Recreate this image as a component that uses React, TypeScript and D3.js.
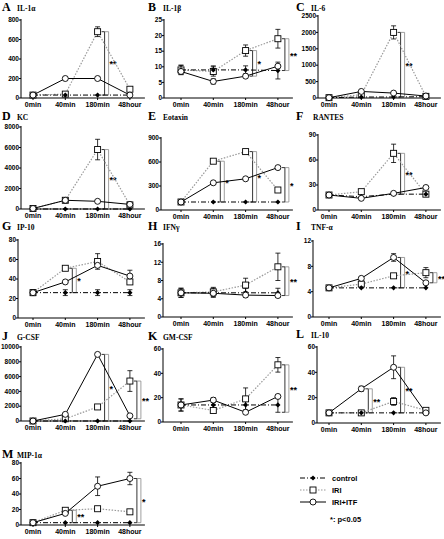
import React from "react";
import * as d3 from "d3";

const categories = ["0min", "40min", "180min", "48hour"];

// ticks
const ticksA = [0, 200, 400, 600, 800];
const ticksB = [0, 5, 10, 15, 20, 25];
const ticksC = [0, 500, 1000, 1500, 2000, 2500];
const ticksD = [0, 2000, 4000, 6000, 8000];
const ticksE = [0, 300, 600, 900];
const ticksF = [0, 30, 60, 90];
const ticksG = [0, 20, 40, 60, 80];
const ticksH = [0, 4, 8, 12, 16];
const ticksI = [0, 4, 8, 12];
const ticksJ = [0, 2000, 4000, 6000, 8000, 10000];
const ticksK = [0, 20, 40, 60];
const ticksL = [0, 20, 40, 60];
const ticksM = [0, 20, 40, 60, 80];

// series: control, IRI, IRI+ITF (values) and errors
const ctrlA = [30, 30, 30, 30], iriA = [30, 40, 680, 90], itfA = [30, 200, 200, 30];
const eCtrlA = [0, 0, 0, 0], eIriA = [0, 0, 50, 20], eItfA = [0, 15, 15, 0];
const ctrlB = [9, 9, 9, 8.8], iriB = [9, 8.5, 15.2, 19], itfB = [8.5, 5.3, 7, 10.2];
const eCtrlB = [1.5, 1.3, 1.3, 2.7], eIriB = [1.5, 1.5, 1.8, 3], eItfB = [0, 0.8, 0.5, 0];
const ctrlC = [10, 30, 30, 40], iriC = [10, 100, 2000, 50], itfC = [10, 200, 150, 60];
const eCtrlC = [0, 0, 0, 0], eIriC = [0, 0, 200, 0], eItfC = [0, 0, 0, 0];
const ctrlD = [0, 0, 0, 0], iriD = [50, 850, 5800, 400], itfD = [50, 850, 750, 450];
const eCtrlD = [0, 0, 0, 0], eIriD = [0, 0, 1000, 0], eItfD = [0, 0, 0, 0];
const ctrlE = [100, 100, 100, 100], iriE = [100, 610, 730, 250], itfE = [100, 340, 390, 530];
const eCtrlE = [0, 0, 0, 0], eIriE = [0, 0, 0, 0], eItfE = [0, 0, 0, 0];
const ctrlF = [18, 16, 19, 19], iriF = [18, 22, 68, 19], itfF = [18, 14, 20, 27];
const eCtrlF = [0, 0, 0, 0], eIriF = [0, 0, 11, 0], eItfF = [0, 0, 0, 0];
const ctrlG = [26, 26, 26, 26], iriG = [26, 51, 58, 37], itfG = [26, 37, 54, 43];
const eCtrlG = [3, 3, 3, 3], eIriG = [3, 0, 8, 0], eItfG = [0, 0, 0, 6];
const ctrlH = [5.3, 5.3, 5.3, 5.3], iriH = [5.3, 5.5, 7, 11], itfH = [5.3, 5.2, 4.8, 4.7];
const eCtrlH = [1, 1, 1, 1], eIriH = [1, 1, 1.5, 3], eItfH = [0, 0, 0, 0];
const ctrlI = [4.6, 4.6, 4.6, 4.6], iriI = [4.6, 5.2, 6.5, 7], itfI = [4.6, 6.1, 9.4, 5.4];
const eCtrlI = [0, 0, 0, 0], eIriI = [0, 0, 0, 0.8], eItfI = [0, 0, 0.6, 0];
const ctrlJ = [0, 0, 0, 0], iriJ = [0, 300, 1900, 5400], itfJ = [0, 900, 9000, 700];
const eCtrlJ = [0, 0, 0, 0], eIriJ = [0, 0, 0, 1400], eItfJ = [0, 0, 0, 0];
const ctrlK = [14, 14, 14, 14], iriK = [14, 9.5, 19, 47], itfK = [14, 18, 8, 21];
const eCtrlK = [5, 5, 5, 6], eIriK = [5, 0, 9, 6], eItfK = [0, 2, 0, 0];
const ctrlL = [8, 8, 8, 8], iriL = [8, 8, 17, 10], itfL = [8, 27, 44, 8];
const eCtrlL = [0, 0, 0, 0], eIriL = [0, 0, 3, 0], eItfL = [0, 2, 9, 0];
const ctrlM = [3, 3, 3, 3], iriM = [3, 19, 21, 17], itfM = [3, 15, 50, 60];
const eCtrlM = [0, 0, 0, 0], eIriM = [0, 0, 0, 0], eItfM = [0, 0, 12, 8];

// significance brackets: [category index, top value, bottom value, label]
const sigA = [[2, 680, 30, "**"]];
const sigB = [[2, 15.2, 7, "*"], [3, 19, 8.8, "**"]];
const sigC = [[2, 2000, 30, "**"]];
const sigD = [[2, 5800, 0, "**"]];
const sigE = [[1, 610, 100, "*"], [2, 730, 100, "*"], [3, 530, 100, "*"]];
const sigF = [[2, 68, 19, "**"]];
const sigG = [[1, 51, 26, "*"]];
const sigH = [[3, 11, 4.7, "**"]];
const sigI = [[2, 9.4, 4.6, "*"], [3, 7, 5.4, "**"]];
const sigJ = [[2, 9000, 0, "*"], [3, 5400, 300, "**"]];
const sigK = [[3, 47, 8, "**"]];
const sigL = [[1, 27, 8, "**"], [2, 44, 8, "**"]];
const sigM = [[1, 19, 3, "**"], [3, 60, 3, "*"]];

const panels = [
  { letter: "A", name: "IL-1α", ticks: ticksA, s: [ctrlA, iriA, itfA], e: [eCtrlA, eIriA, eItfA], sig: sigA, col: 0, ax: 21, top: 20, bot: 98, ty: 11 },
  { letter: "B", name: "IL-1β", ticks: ticksB, s: [ctrlB, iriB, itfB], e: [eCtrlB, eIriB, eItfB], sig: sigB, col: 1, ax: 164, top: 20, bot: 98, ty: 11 },
  { letter: "C", name: "IL-6", ticks: ticksC, s: [ctrlC, iriC, itfC], e: [eCtrlC, eIriC, eItfC], sig: sigC, col: 2, ax: 318, top: 16, bot: 98, ty: 11 },
  { letter: "D", name: "KC", ticks: ticksD, s: [ctrlD, iriD, itfD], e: [eCtrlD, eIriD, eItfD], sig: sigD, col: 0, ax: 21, top: 127, bot: 209, ty: 120 },
  { letter: "E", name: "Eotaxin", ticks: ticksE, s: [ctrlE, iriE, itfE], e: [eCtrlE, eIriE, eItfE], sig: sigE, col: 1, ax: 161, top: 138, bot: 210, ty: 120 },
  { letter: "F", name: "RANTES", ticks: ticksF, s: [ctrlF, iriF, itfF], e: [eCtrlF, eIriF, eItfF], sig: sigF, col: 2, ax: 318, top: 135, bot: 210, ty: 120 },
  { letter: "G", name: "IP-10", ticks: ticksG, s: [ctrlG, iriG, itfG], e: [eCtrlG, eIriG, eItfG], sig: sigG, col: 0, ax: 18, top: 240, bot: 318, ty: 230 },
  { letter: "H", name: "IFNγ", ticks: ticksH, s: [ctrlH, iriH, itfH], e: [eCtrlH, eIriH, eItfH], sig: sigH, col: 1, ax: 163, top: 244, bot: 317, ty: 230 },
  { letter: "I", name: "TNF-α", ticks: ticksI, s: [ctrlI, iriI, itfI], e: [eCtrlI, eIriI, eItfI], sig: sigI, col: 2, ax: 313, top: 241, bot: 317, ty: 230 },
  { letter: "J", name: "G-CSF", ticks: ticksJ, s: [ctrlJ, iriJ, itfJ], e: [eCtrlJ, eIriJ, eItfJ], sig: sigJ, col: 0, ax: 21, top: 347, bot: 421, ty: 340 },
  { letter: "K", name: "GM-CSF", ticks: ticksK, s: [ctrlK, iriK, itfK], e: [eCtrlK, eIriK, eItfK], sig: sigK, col: 1, ax: 163, top: 349, bot: 422, ty: 340 },
  { letter: "L", name: "IL-10", ticks: ticksL, s: [ctrlL, iriL, itfL], e: [eCtrlL, eIriL, eItfL], sig: sigL, col: 2, ax: 317, top: 347, bot: 423, ty: 338 },
  { letter: "M", name: "MIP-1α", ticks: ticksM, s: [ctrlM, iriM, itfM], e: [eCtrlM, eIriM, eItfM], sig: sigM, col: 0, ax: 21, top: 463, bot: 525, ty: 458 },
];

const colStart = [33, 181, 329];
const titleX = [2, 148, 296];
const step = 32.3;
const seriesNames = ["control", "IRI", "IRI+ITF"];
const styles = [
  { stroke: "#000", dash: "5,2,1,2", width: 1 },
  { stroke: "#999", dash: "1.5,1.5", width: 1.2 },
  { stroke: "#000", dash: "", width: 1 },
];
const tickFont = "Liberation Sans, Arial, sans-serif";
const serif = "Liberation Serif, Times New Roman, serif";

function Marker({ k, x, y }: { k: number; x: number; y: number }) {
  if (k === 0) {
    const r = 2.6;
    return <path d={`M${x},${y - r}L${x + r},${y}L${x},${y + r}L${x - r},${y}Z`} fill="#000" />;
  }
  if (k === 1) return <rect x={x - 3} y={y - 3} width={6} height={6} fill="#fff" stroke="#000" strokeWidth={0.9} />;
  return <circle cx={x} cy={y} r={3} fill="#fff" stroke="#000" strokeWidth={0.9} />;
}

function Panel({ p }: { p: any }) {
  const x0 = colStart[p.col];
  const x = d3.scalePoint().domain(categories).range([x0, x0 + 3 * step]);
  const maxT = p.ticks[p.ticks.length - 1];
  const y = d3.scaleLinear().domain([0, maxT]).range([p.bot, p.top]);
  const xEnd = x0 + 3 * step + 15;
  const line = d3.line<number>().x((_, i) => x(categories[i])!).y((v) => y(v));
  const order = [1, 0, 2];
  const tx = titleX[p.col];
  return (
    <g>
      <text x={tx} y={p.ty} fontFamily={serif} fontWeight="bold" fontSize={12}>
        {p.letter}
      </text>
      <text x={tx + (p.letter === "F" ? 17 : 15)} y={p.ty} fontFamily={serif} fontWeight="bold" fontSize={7.5}>
        {p.name}
      </text>
      {/* axes */}
      <line x1={p.ax} x2={p.ax} y1={p.top - 1} y2={p.bot} stroke="#000" strokeWidth={1} />
      <line x1={p.ax} x2={xEnd} y1={p.bot} y2={p.bot} stroke="#000" strokeWidth={1} />
      {p.ticks.map((t: number) => (
        <g key={t}>
          <line x1={p.ax - 2} x2={p.ax} y1={y(t)} y2={y(t)} stroke="#000" />
          <text x={p.ax - 2} y={y(t)} dy="0.35em" textAnchor="end" fontFamily={tickFont} fontWeight="bold" fontSize={6.5}>
            {t}
          </text>
        </g>
      ))}
      {categories.map((c) => (
        <g key={c}>
          <line x1={x(c)} x2={x(c)} y1={p.bot} y2={p.bot + 2} stroke="#000" />
          <text x={x(c)} y={p.bot + 9} textAnchor="middle" fontFamily={tickFont} fontWeight="bold" fontSize={7}>
            {c}
          </text>
        </g>
      ))}
      {/* significance brackets */}
      {p.sig.map((s: any, i: number) => {
        const cx = x(categories[s[0]])! + 4;
        const y1 = y(s[1]);
        const y2 = y(s[2]);
        return (
          <g key={"s" + i} stroke="#000" strokeWidth={0.8} fill="none">
            <path d={`M${cx},${y1}H${cx + 3}V${y2}H${cx}`} />
            <path d={`M${cx + 3},${y1}H${cx + 7}V${y2}H${cx + 3}`} stroke="#888" />
            <text x={cx + 8} y={(y1 + y2) / 2 + 4} stroke="none" fill="#000" fontFamily={tickFont} fontWeight="bold" fontSize={9}>
              {s[3]}
            </text>
          </g>
        );
      })}
      {/* lines */}
      {order.map((k) => (
        <path key={"l" + k} d={line(p.s[k]) || ""} fill="none" stroke={styles[k].stroke} strokeWidth={styles[k].width} strokeDasharray={styles[k].dash} />
      ))}
      {/* error bars */}
      {order.map((k) =>
        p.s[k].map((v: number, i: number) => {
          const e = p.e[k][i];
          if (!e) return null;
          const cx = x(categories[i])!;
          return (
            <g key={"e" + k + i} stroke="#000" strokeWidth={0.8}>
              <line x1={cx} x2={cx} y1={y(v - e)} y2={y(v + e)} />
              <line x1={cx - 2.5} x2={cx + 2.5} y1={y(v + e)} y2={y(v + e)} />
              <line x1={cx - 2.5} x2={cx + 2.5} y1={y(v - e)} y2={y(v - e)} />
            </g>
          );
        })
      )}
      {order.map((k) =>
        p.s[k].map((v: number, i: number) => <Marker key={"m" + k + i} k={k} x={x(categories[i])!} y={y(v)} />)
      )}
    </g>
  );
}

export default function App() {
  return (
    <svg width={444} height={539} style={{ position: "absolute", left: 0, top: 0, background: "#fff" }}>
      <rect width={444} height={539} fill="#fff" />
      {panels.map((p) => (
        <Panel key={p.letter} p={p} />
      ))}
      {/* legend */}
      {seriesNames.map((n, k) => {
        const yy = 478 + k * 12;
        return (
          <g key={n}>
            <line x1={300} x2={326} y1={yy} y2={yy} stroke={styles[k].stroke} strokeWidth={styles[k].width} strokeDasharray={styles[k].dash} />
            <Marker k={k} x={313} y={yy} />
            <text x={332} y={yy + 3} fontFamily={tickFont} fontWeight="bold" fontSize={7.5}>
              {n}
            </text>
          </g>
        );
      })}
      <text x={330} y={522} fontFamily={tickFont} fontWeight="bold" fontSize={7.5}>
        *: p&lt;0.05
      </text>
    </svg>
  );
}
